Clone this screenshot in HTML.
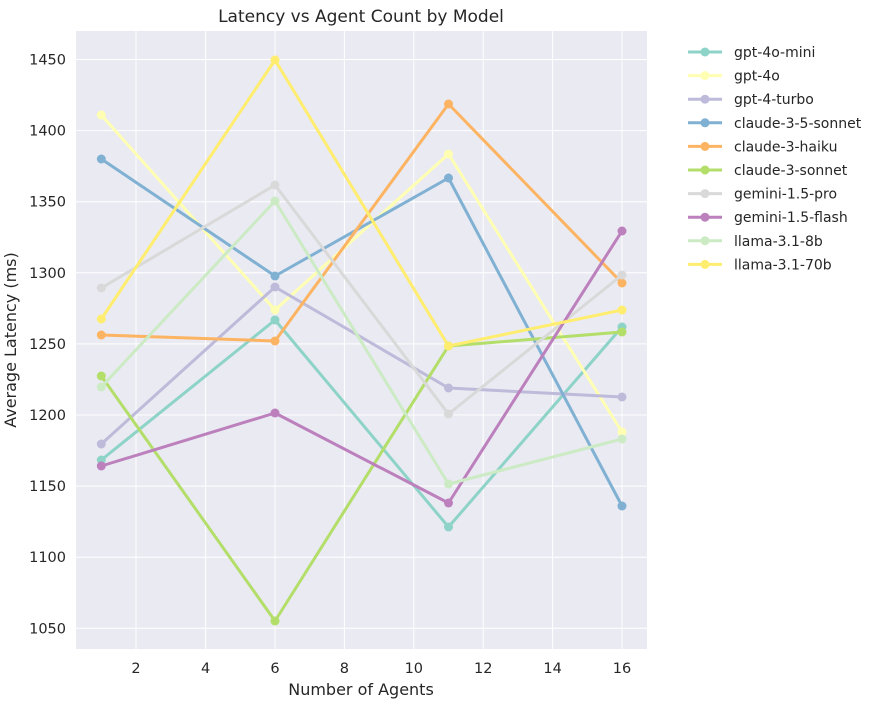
<!DOCTYPE html>
<html><head><meta charset="utf-8"><style>
body{margin:0;background:#fff}
svg text{font-family:"DejaVu Sans","Liberation Sans",sans-serif;fill:#262626}
</style></head><body>
<svg width="887" height="700" viewBox="0 0 887 700" xmlns="http://www.w3.org/2000/svg">
<rect x="76" y="31" width="571" height="618" fill="#eaeaf2"/>
<g stroke="#fff" stroke-width="1">
<line x1="136" y1="31" x2="136" y2="649"/><line x1="205.6" y1="31" x2="205.6" y2="649"/>
<line x1="275" y1="31" x2="275" y2="649"/><line x1="344.4" y1="31" x2="344.4" y2="649"/>
<line x1="413.8" y1="31" x2="413.8" y2="649"/><line x1="483.2" y1="31" x2="483.2" y2="649"/>
<line x1="552.6" y1="31" x2="552.6" y2="649"/><line x1="622" y1="31" x2="622" y2="649"/>
<line x1="76" y1="59.5" x2="647" y2="59.5"/><line x1="76" y1="130.6" x2="647" y2="130.6"/>
<line x1="76" y1="201.7" x2="647" y2="201.7"/><line x1="76" y1="272.8" x2="647" y2="272.8"/>
<line x1="76" y1="343.9" x2="647" y2="343.9"/><line x1="76" y1="415" x2="647" y2="415"/>
<line x1="76" y1="486.1" x2="647" y2="486.1"/><line x1="76" y1="557.2" x2="647" y2="557.2"/>
<line x1="76" y1="628.3" x2="647" y2="628.3"/>
</g>
<g font-size="14.5" text-anchor="end">
<text x="66" y="64.5">1450</text><text x="66" y="135.6">1400</text><text x="66" y="206.7">1350</text>
<text x="66" y="277.8">1300</text><text x="66" y="348.9">1250</text><text x="66" y="420">1200</text>
<text x="66" y="491.1">1150</text><text x="66" y="562.2">1100</text><text x="66" y="633.3">1050</text>
</g>
<g font-size="14.5" text-anchor="middle">
<text x="136" y="673">2</text><text x="205.6" y="673">4</text><text x="275" y="673">6</text>
<text x="344.4" y="673">8</text><text x="413.8" y="673">10</text><text x="483.2" y="673">12</text>
<text x="552.6" y="673">14</text><text x="622" y="673">16</text>
</g>
<text x="361" y="695" font-size="16" text-anchor="middle">Number of Agents</text>
<text x="361" y="22" font-size="17" text-anchor="middle">Latency vs Agent Count by Model</text>
<text transform="translate(16,340) rotate(-90)" font-size="16" text-anchor="middle">Average Latency (ms)</text>
<g fill="none" stroke-width="3" stroke-linejoin="round">
<polyline stroke="#8dd3c7" points="101.3,460 275,320 448.5,527 622,327"/>
<polyline stroke="#ffffb3" points="101.3,115 275,310 448.5,154 622,432"/>
<polyline stroke="#bebada" points="101.3,444 275,287 448.5,388 622,397"/>
<polyline stroke="#80b1d3" points="101.3,159 275,276 448.5,178 622,506"/>
<polyline stroke="#fdb462" points="101.3,335 275,341 448.5,104 622,283"/>
<polyline stroke="#b3de69" points="101.3,376 275,621 448.5,346 622,332"/>
<polyline stroke="#d9d9d9" points="101.3,288 275,185 448.5,414 622,275"/>
<polyline stroke="#bc80bd" points="101.3,466 275,413 448.5,503 622,231"/>
<polyline stroke="#ccebc5" points="101.3,387 275,201 448.5,484 622,439"/>
<polyline stroke="#ffed6f" points="101.3,319 275,60 448.5,346 622,310"/>
</g>
<g>
<g fill="#8dd3c7"><circle cx="101.3" cy="460" r="4.5"/><circle cx="275" cy="320" r="4.5"/><circle cx="448.5" cy="527" r="4.5"/><circle cx="622" cy="327" r="4.5"/></g>
<g fill="#ffffb3"><circle cx="101.3" cy="115" r="4.5"/><circle cx="275" cy="310" r="4.5"/><circle cx="448.5" cy="154" r="4.5"/><circle cx="622" cy="432" r="4.5"/></g>
<g fill="#bebada"><circle cx="101.3" cy="444" r="4.5"/><circle cx="275" cy="287" r="4.5"/><circle cx="448.5" cy="388" r="4.5"/><circle cx="622" cy="397" r="4.5"/></g>
<g fill="#80b1d3"><circle cx="101.3" cy="159" r="4.5"/><circle cx="275" cy="276" r="4.5"/><circle cx="448.5" cy="178" r="4.5"/><circle cx="622" cy="506" r="4.5"/></g>
<g fill="#fdb462"><circle cx="101.3" cy="335" r="4.5"/><circle cx="275" cy="341" r="4.5"/><circle cx="448.5" cy="104" r="4.5"/><circle cx="622" cy="283" r="4.5"/></g>
<g fill="#b3de69"><circle cx="101.3" cy="376" r="4.5"/><circle cx="275" cy="621" r="4.5"/><circle cx="448.5" cy="346" r="4.5"/><circle cx="622" cy="332" r="4.5"/></g>
<g fill="#d9d9d9"><circle cx="101.3" cy="288" r="4.5"/><circle cx="275" cy="185" r="4.5"/><circle cx="448.5" cy="414" r="4.5"/><circle cx="622" cy="275" r="4.5"/></g>
<g fill="#bc80bd"><circle cx="101.3" cy="466" r="4.5"/><circle cx="275" cy="413" r="4.5"/><circle cx="448.5" cy="503" r="4.5"/><circle cx="622" cy="231" r="4.5"/></g>
<g fill="#ccebc5"><circle cx="101.3" cy="387" r="4.5"/><circle cx="275" cy="201" r="4.5"/><circle cx="448.5" cy="484" r="4.5"/><circle cx="622" cy="439" r="4.5"/></g>
<g fill="#ffed6f"><circle cx="101.3" cy="319" r="4.5"/><circle cx="275" cy="60" r="4.5"/><circle cx="448.5" cy="346" r="4.5"/><circle cx="622" cy="310" r="4.5"/></g>
</g>
<g font-size="14" stroke-width="3">
<g transform="translate(0,52)"><line x1="688" x2="722" stroke="#8dd3c7"/><circle cx="705" r="4.5" fill="#8dd3c7"/><text x="734" y="5" stroke="none">gpt-4o-mini</text></g>
<g transform="translate(0,75.6)"><line x1="688" x2="722" stroke="#ffffb3"/><circle cx="705" r="4.5" fill="#ffffb3"/><text x="734" y="5" stroke="none">gpt-4o</text></g>
<g transform="translate(0,99.2)"><line x1="688" x2="722" stroke="#bebada"/><circle cx="705" r="4.5" fill="#bebada"/><text x="734" y="5" stroke="none">gpt-4-turbo</text></g>
<g transform="translate(0,122.8)"><line x1="688" x2="722" stroke="#80b1d3"/><circle cx="705" r="4.5" fill="#80b1d3"/><text x="734" y="5" stroke="none">claude-3-5-sonnet</text></g>
<g transform="translate(0,146.4)"><line x1="688" x2="722" stroke="#fdb462"/><circle cx="705" r="4.5" fill="#fdb462"/><text x="734" y="5" stroke="none">claude-3-haiku</text></g>
<g transform="translate(0,170)"><line x1="688" x2="722" stroke="#b3de69"/><circle cx="705" r="4.5" fill="#b3de69"/><text x="734" y="5" stroke="none">claude-3-sonnet</text></g>
<g transform="translate(0,193.6)"><line x1="688" x2="722" stroke="#d9d9d9"/><circle cx="705" r="4.5" fill="#d9d9d9"/><text x="734" y="5" stroke="none">gemini-1.5-pro</text></g>
<g transform="translate(0,217.2)"><line x1="688" x2="722" stroke="#bc80bd"/><circle cx="705" r="4.5" fill="#bc80bd"/><text x="734" y="5" stroke="none">gemini-1.5-flash</text></g>
<g transform="translate(0,240.8)"><line x1="688" x2="722" stroke="#ccebc5"/><circle cx="705" r="4.5" fill="#ccebc5"/><text x="734" y="5" stroke="none">llama-3.1-8b</text></g>
<g transform="translate(0,264.4)"><line x1="688" x2="722" stroke="#ffed6f"/><circle cx="705" r="4.5" fill="#ffed6f"/><text x="734" y="5" stroke="none">llama-3.1-70b</text></g>
</g>
</svg>
</body></html>
